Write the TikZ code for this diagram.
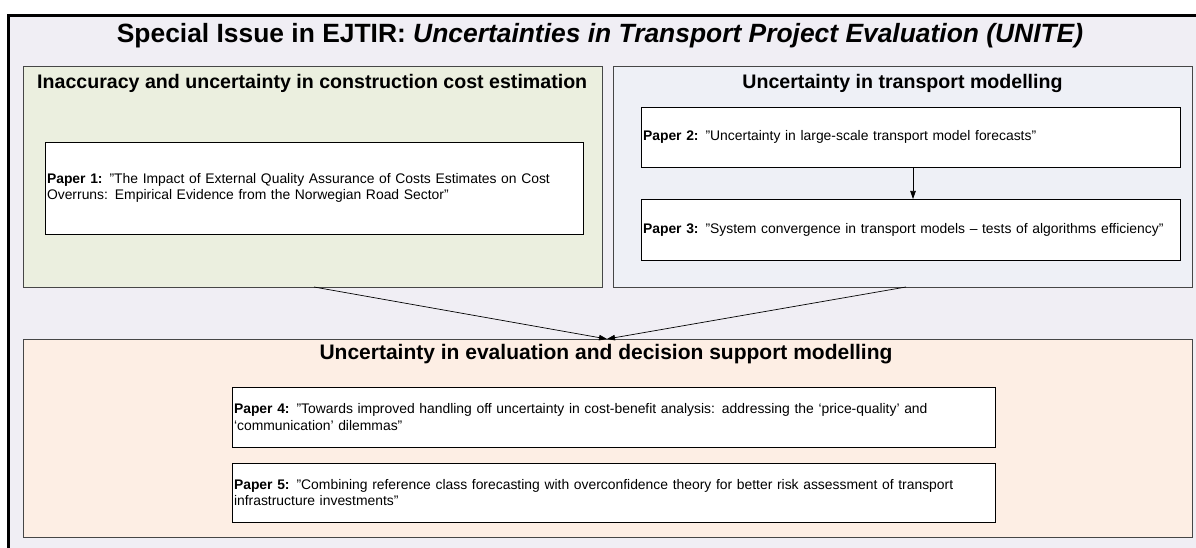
\documentclass[tikz,border=0pt]{standalone}
\usepackage{fontspec}
\setmainfont{Liberation Sans}
\usetikzlibrary{arrows.meta,shadows}
\definecolor{outerbg}{RGB}{240,238,244}
\definecolor{greenbg}{RGB}{235,239,223}
\definecolor{bluebg}{RGB}{238,240,246}
\definecolor{orangebg}{RGB}{253,238,228}
\definecolor{edgec}{RGB}{70,70,70}
\definecolor{shadec}{RGB}{115,115,115}
\begin{document}
\begin{tikzpicture}[x=1pt,y=-1pt,
  secbox/.style={draw=edgec, line width=0.8pt, inner sep=0pt, outer sep=0pt, anchor=north west,
    general shadow={fill=shadec, shadow xshift=1.2pt, shadow yshift=-1.2pt}},
  paperbox/.style={draw=black, line width=0.8pt, fill=white, inner xsep=2pt, inner ysep=0pt,
    outer sep=0pt, anchor=north west, align=left, font=\fontsize{13.9}{16.5}\selectfont,
    general shadow={fill=shadec, shadow xshift=1.2pt, shadow yshift=-1.2pt}},
  sectitle/.style={font=\fontsize{19.6}{23}\selectfont\bfseries, inner sep=0pt},
  conn/.style={-{Triangle[length=8pt,width=5.5pt]}, line width=0.7pt}
]
\clip (0,0) rectangle (1196,548);
\useasboundingbox (0,0) rectangle (1196,548);
\fill[white] (0,0) rectangle (1196,548);
% outer frame
\fill[outerbg] (8.7,15.5) rectangle (1220,570);
\draw[line width=2.5pt] (1220,15.5) -- (8.7,15.5) -- (8.7,570);
\node[font=\fontsize{26.4}{31}\selectfont\bfseries, inner sep=0pt] (title) at (600,36)
  {Special Issue in EJTIR: \textit{Uncertainties in Transport Project Evaluation (UNITE)}};
% section boxes
\node[secbox, fill=greenbg, minimum width=578.5pt, minimum height=220.3pt] (green) at (23.5,66.7) {};
\node[secbox, fill=bluebg, minimum width=579pt, minimum height=220.3pt] (blue) at (613,66.7) {};
\node[secbox, fill=orangebg, minimum width=1168.5pt, minimum height=198pt] (orange) at (23.5,339) {};
% section titles
\node[sectitle, anchor=west] (gtitle) at (37,83) {Inaccuracy and uncertainty in construction cost estimation};
\node[sectitle] (btitle) at (902.5,83) {Uncertainty in transport modelling};
\node[sectitle, font=\fontsize{21}{24}\selectfont\bfseries] (otitle) at (606,354) {Uncertainty in evaluation and decision support modelling};
% papers
\node[paperbox, text width=534pt, minimum height=92pt] (p1) at (45,142)
  {\textbf{Paper 1:} ”The Impact of External Quality Assurance of Costs Estimates on Cost\\Overruns: Empirical Evidence from the Norwegian Road Sector”};
\node[paperbox, text width=535pt, minimum height=60pt] (p2) at (641,107)
  {\textbf{Paper 2:} ”Uncertainty in large-scale transport model forecasts”};
\node[paperbox, text width=535pt, minimum height=61pt] (p3) at (641,199)
  {\textbf{Paper 3:} ”System convergence in transport models – tests of algorithms efficiency”};
\node[paperbox, text width=759pt, minimum height=60pt] (p4) at (232,387)
  {\textbf{Paper 4:} ”Towards improved handling off uncertainty in cost-benefit analysis: addressing the ‘price-quality’ and\\‘communication’ dilemmas”};
\node[paperbox, text width=759pt, minimum height=59pt] (p5) at (232,463)
  {\textbf{Paper 5:} ”Combining reference class forecasting with overconfidence theory for better risk assessment of transport\\infrastructure investments”};
% connectors
\coordinate (gA) at (314,287);
\coordinate (bA) at (906,287);
\coordinate (oA) at (607,339);
\draw[conn] (gA) -- (oA);
\draw[conn] (bA) -- (oA);
\draw[conn] ([xshift=2.5pt]p2.south) -- ([xshift=2.5pt]p3.north);
\end{tikzpicture}
\end{document}
